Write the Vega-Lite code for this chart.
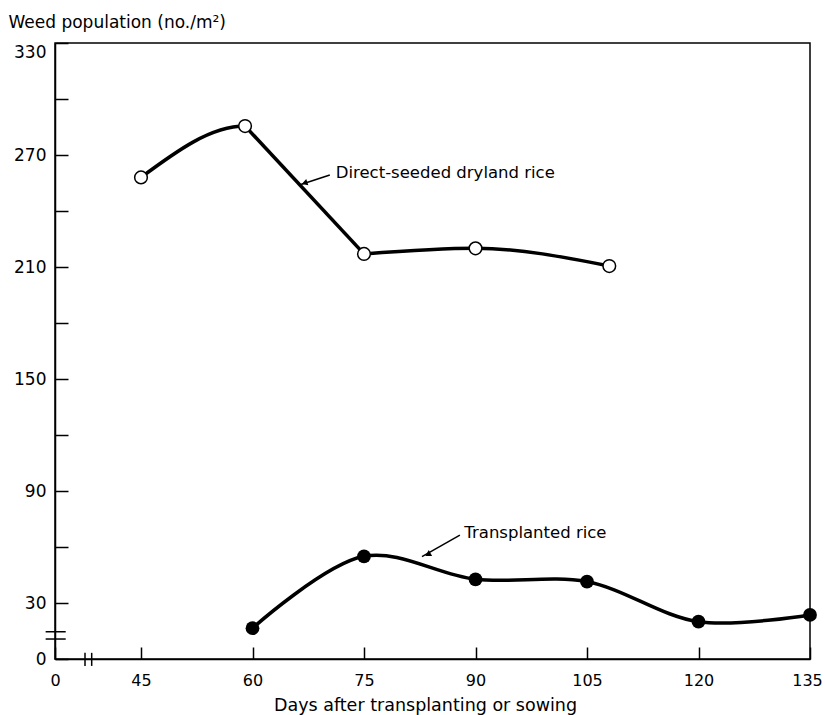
{
  "$schema": "https://vega.github.io/schema/vega-lite/v6.json",
  "width": 755,
  "height": 616,
  "autosize": {"type": "none"},
  "padding": {"left": 55, "top": 43, "right": 15, "bottom": 56},
  "background": "white",
  "config": {
    "font": "DejaVu Sans",
    "view": {"stroke": "black", "strokeWidth": 1.5},
    "axis": {
      "grid": false,
      "domainColor": "black",
      "domainWidth": 1.5,
      "tickColor": "black",
      "tickWidth": 1.5,
      "labelColor": "black",
      "titleColor": "black",
      "labelFont": "DejaVu Sans",
      "titleFont": "DejaVu Sans",
      "titleFontWeight": "normal",
      "labelFlush": false
    }
  },
  "datasets": {
    "points": [
      {"series": "Direct-seeded dryland rice", "day": 45, "weeds": 258},
      {"series": "Direct-seeded dryland rice", "day": 59, "weeds": 285.5},
      {"series": "Direct-seeded dryland rice", "day": 75, "weeds": 217},
      {"series": "Direct-seeded dryland rice", "day": 90, "weeds": 220},
      {"series": "Direct-seeded dryland rice", "day": 108, "weeds": 210.5},
      {"series": "Transplanted rice", "day": 60, "weeds": 16.5},
      {"series": "Transplanted rice", "day": 75, "weeds": 55},
      {"series": "Transplanted rice", "day": 90, "weeds": 42.7},
      {"series": "Transplanted rice", "day": 105, "weeds": 41.4},
      {"series": "Transplanted rice", "day": 120, "weeds": 20},
      {"series": "Transplanted rice", "day": 135, "weeds": 23.6}
    ],
    "notes": [
      {"label": "Direct-seeded dryland rice", "day": 71.2, "weeds": 260.5},
      {"label": "Transplanted rice", "day": 88.5, "weeds": 67.5}
    ],
    "leaders": [
      {"label": "Direct-seeded dryland rice", "day": 70.4, "weeds": 259.3, "day2": 66.3, "weeds2": 253.9},
      {"label": "Transplanted rice", "day": 87.9, "weeds": 66.4, "day2": 82.8, "weeds2": 54.8}
    ],
    "arrows": [
      {"label": "Direct-seeded dryland rice", "day": 67.0, "weeds": 255.0},
      {"label": "Transplanted rice", "day": 83.6, "weeds": 56.0}
    ],
    "breaks": [
      {"axis": "y", "day": -4.9, "day2": 5.6, "weeds": 14.6, "weeds2": 14.6},
      {"axis": "y", "day": -4.9, "day2": 5.6, "weeds": 10.7, "weeds2": 10.7},
      {"axis": "x", "day": 15.7, "day2": 15.7, "weeds": 3.3, "weeds2": -3.7},
      {"axis": "x", "day": 19.2, "day2": 19.2, "weeds": 3.3, "weeds2": -3.7}
    ]
  },
  "encoding": {
    "x": {
      "field": "day",
      "type": "quantitative",
      "scale": {"domain": [0, 45, 135], "range": [0, 86, 755]},
      "axis": {
        "values": [0, 45, 60, 75, 90, 105, 120, 135],
        "tickSize": -12,
        "labelPadding": 25,
        "labelFontSize": 16,
        "labelOffset": {"condition": {"test": "datum.value == 135", "value": -3}, "value": 0},
        "title": "Days after transplanting or sowing",
        "titleFontSize": 17.5,
        "titleX": 370,
        "titleAlign": "center",
        "titleY": 46,
        "titleBaseline": "middle"
      }
    },
    "y": {
      "field": "weeds",
      "type": "quantitative",
      "scale": {"domain": [0, 330], "nice": false, "zero": false},
      "axis": {
        "values": [0, 30, 60, 90, 120, 150, 180, 210, 240, 270, 300, 330],
        "labelExpr": "datum.value == 0 || datum.value % 60 == 30 ? datum.label : ''",
        "labelOffset": {"condition": {"test": "datum.value == 330", "value": 9}, "value": 0},
        "tickSize": -13,
        "labelPadding": 22,
        "labelFontSize": 17,
        "title": "Weed population (no./m²)",
        "titleFontSize": 17,
        "titleAngle": 0,
        "titleAlign": "left",
        "titleBaseline": "middle",
        "titleX": -47,
        "titleY": -21
      }
    }
  },
  "layer": [
    {
      "data": {"name": "points"},
      "transform": [{"filter": "datum.series == 'Direct-seeded dryland rice' && datum.day <= 75"}],
      "mark": {
        "type": "line",
        "interpolate": "monotone",
        "strokeWidth": 3.5,
        "stroke": {
          "gradient": "linear",
          "x1": 0, "y1": 0, "x2": 1, "y2": 0,
          "stops": [
            {"offset": 0, "color": "black"},
            {"offset": 0.466, "color": "black"},
            {"offset": 0.468, "color": "rgba(0,0,0,0)"},
            {"offset": 1, "color": "rgba(0,0,0,0)"}
          ]
        }
      }
    },
    {
      "data": {"name": "points"},
      "transform": [{"filter": "datum.series == 'Direct-seeded dryland rice' && datum.day >= 59 && datum.day <= 75"}],
      "mark": {"type": "line", "interpolate": "linear", "strokeWidth": 3.5, "color": "black"}
    },
    {
      "data": {"name": "points"},
      "transform": [{"filter": "datum.series == 'Direct-seeded dryland rice' && datum.day >= 75"}],
      "mark": {"type": "line", "interpolate": "monotone", "strokeWidth": 3.5, "color": "black"}
    },
    {
      "data": {"name": "points"},
      "transform": [{"filter": "datum.series == 'Transplanted rice'"}],
      "mark": {"type": "line", "interpolate": "catmull-rom", "strokeWidth": 3.5, "color": "black"}
    },
    {
      "data": {"name": "leaders"},
      "mark": {"type": "rule", "strokeWidth": 1.5, "color": "black"},
      "encoding": {"x2": {"field": "day2"}, "y2": {"field": "weeds2"}}
    },
    {
      "data": {"name": "arrows"},
      "transform": [{"filter": "datum.label == 'Direct-seeded dryland rice'"}],
      "mark": {"type": "point", "shape": "triangle-up", "angle": 252, "size": 45, "filled": true, "color": "black", "opacity": 1}
    },
    {
      "data": {"name": "arrows"},
      "transform": [{"filter": "datum.label == 'Transplanted rice'"}],
      "mark": {"type": "point", "shape": "triangle-up", "angle": 240, "size": 45, "filled": true, "color": "black", "opacity": 1}
    },
    {
      "data": {"name": "points"},
      "transform": [{"filter": "datum.series == 'Direct-seeded dryland rice'"}],
      "mark": {"type": "point", "shape": "circle", "size": 160, "filled": true, "fill": "white", "stroke": "black", "strokeWidth": 1.5, "opacity": 1}
    },
    {
      "data": {"name": "points"},
      "transform": [{"filter": "datum.series == 'Transplanted rice'"}],
      "mark": {"type": "point", "shape": "circle", "size": 190, "filled": true, "color": "black", "opacity": 1}
    },
    {
      "data": {"name": "notes"},
      "mark": {"type": "text", "align": "left", "baseline": "middle", "fontSize": 16.5, "color": "black"},
      "encoding": {"text": {"field": "label"}}
    },
    {
      "data": {"name": "breaks"},
      "mark": {"type": "rule", "strokeWidth": 1.5, "color": "black"},
      "encoding": {"x2": {"field": "day2"}, "y2": {"field": "weeds2"}}
    }
  ]
}
